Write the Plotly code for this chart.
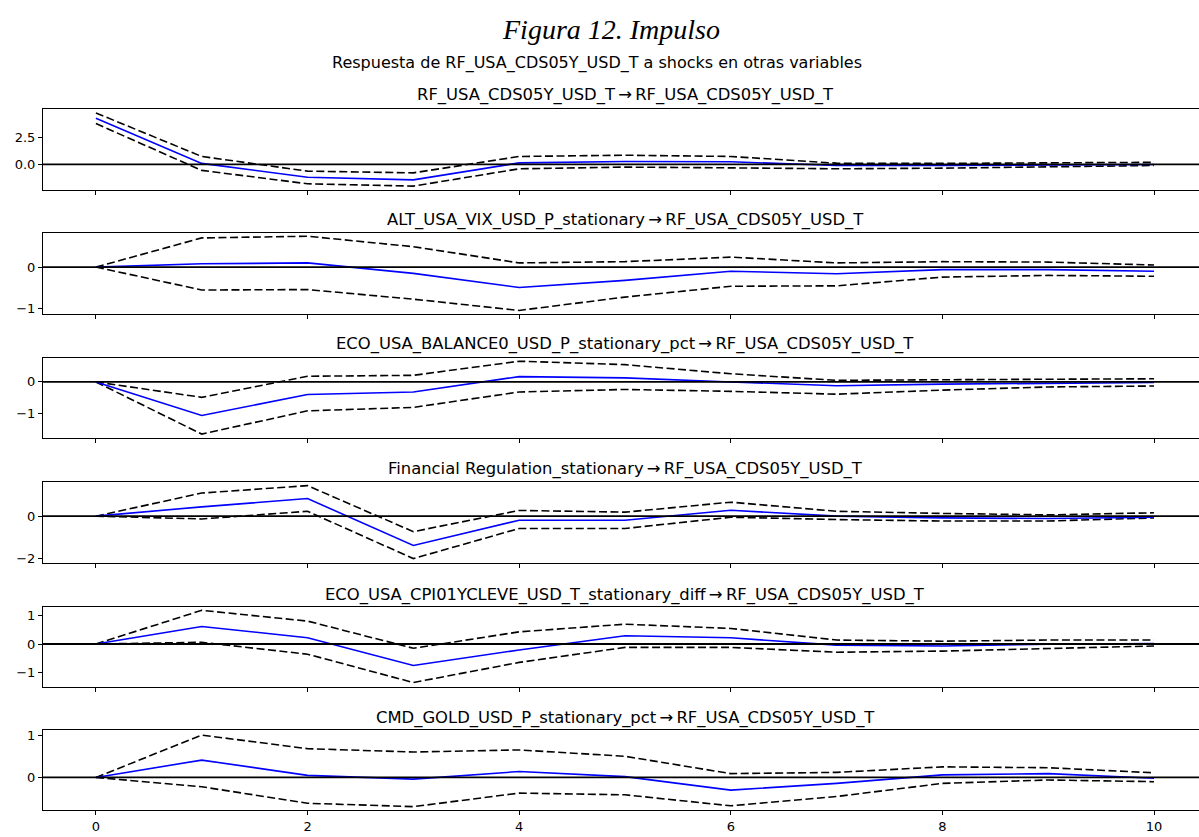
import plotly.graph_objects as go

# ---- data: impulse responses of the CDS spread over 0..10 periods ----
horizons = list(range(11))
response_var = "RF_USA_CDS05Y_USD_T"
shock_vars = [
    "RF_USA_CDS05Y_USD_T",
    "ALT_USA_VIX_USD_P_stationary",
    "ECO_USA_BALANCE0_USD_P_stationary_pct",
    "Financial Regulation_stationary",
    "ECO_USA_CPI01YCLEVE_USD_T_stationary_diff",
    "CMD_GOLD_USD_P_stationary_pct",
]

irf_cds = [4.35, 0.10, -1.20, -1.45, 0.15, 0.28, 0.25, -0.10, -0.10, -0.08, 0.00]
upper_cds = [4.85, 0.75, -0.63, -0.79, 0.75, 0.87, 0.75, 0.12, 0.10, 0.15, 0.20]
lower_cds = [3.85, -0.56, -1.82, -2.04, -0.41, -0.25, -0.32, -0.41, -0.35, -0.25, -0.10]

irf_vix = [0.0, 0.08, 0.10, -0.15, -0.49, -0.32, -0.10, -0.16, -0.06, -0.06, -0.10]
upper_vix = [0.0, 0.70, 0.74, 0.49, 0.10, 0.13, 0.24, 0.10, 0.13, 0.12, 0.05]
lower_vix = [0.0, -0.55, -0.54, -0.77, -1.04, -0.72, -0.46, -0.45, -0.24, -0.20, -0.22]

irf_balance = [0.0, -1.07, -0.40, -0.32, 0.17, 0.13, 0.00, -0.12, -0.07, -0.04, -0.02]
upper_balance = [0.0, -0.49, 0.18, 0.21, 0.66, 0.55, 0.26, 0.05, 0.07, 0.08, 0.10]
lower_balance = [0.0, -1.66, -0.92, -0.81, -0.32, -0.24, -0.30, -0.39, -0.26, -0.16, -0.13]

irf_regulation = [0.0, 0.44, 0.83, -1.38, -0.19, -0.19, 0.28, 0.00, -0.08, -0.11, -0.05]
upper_regulation = [0.0, 1.09, 1.44, -0.73, 0.27, 0.19, 0.66, 0.23, 0.13, 0.06, 0.16]
lower_regulation = [0.0, -0.13, 0.23, -2.00, -0.58, -0.58, -0.05, -0.16, -0.23, -0.23, -0.08]

irf_cpi = [0.0, 0.62, 0.22, -0.76, -0.21, 0.29, 0.22, -0.04, -0.07, -0.01, 0.02]
upper_cpi = [0.0, 1.19, 0.81, -0.15, 0.43, 0.70, 0.55, 0.14, 0.10, 0.14, 0.14]
lower_cpi = [0.0, 0.06, -0.36, -1.36, -0.65, -0.12, -0.12, -0.29, -0.25, -0.15, -0.07]

irf_gold = [0.0, 0.41, 0.05, -0.04, 0.14, 0.02, -0.30, -0.14, 0.06, 0.09, -0.02]
upper_gold = [0.0, 1.00, 0.68, 0.60, 0.65, 0.50, 0.09, 0.12, 0.25, 0.23, 0.11]
lower_gold = [0.0, -0.22, -0.61, -0.69, -0.37, -0.41, -0.67, -0.45, -0.14, -0.06, -0.10]

irfs = [irf_cds, irf_vix, irf_balance, irf_regulation, irf_cpi, irf_gold]
uppers = [upper_cds, upper_vix, upper_balance, upper_regulation, upper_cpi, upper_gold]
lowers = [lower_cds, lower_vix, lower_balance, lower_regulation, lower_cpi, lower_gold]

# y ticks per panel
y_tickvals = [[0.0, 2.5], [-1, 0], [-1, 0], [-2, 0], [-1, 0, 1], [0, 1]]
y_ticktext = [["0.0", "2.5"], ["\u22121", "0"], ["\u22121", "0"], ["\u22122", "0"],
              ["\u22121", "0", "1"], ["0", "1"]]
x_ticks = [0, 2, 4, 6, 8, 10]

# ---- layout geometry (pixels) ----
W, H = 1199, 837
panel_top = [107, 232, 357.3, 482.7, 608, 732.7]
panel_bot = [188.5, 313, 438.3, 564.3, 688.7, 813.3]
title_y = [93, 219, 343, 469, 596, 720]
y_ranges = [[-2.42, 5.2], [-1.12, 0.81], [-1.79, 0.77], [-2.22, 1.6], [-1.51, 1.32], [-0.78, 1.11]]
plot_left = 43
x_range = [-0.5, 10.425]

FONT = "DejaVu Sans"
fig = go.Figure()
layout = dict(
    width=W, height=H,
    margin=dict(l=0, r=0, t=0, b=0),
    paper_bgcolor="white", plot_bgcolor="white",
    showlegend=False,
    font=dict(family=FONT, size=13, color="black"),
)
annotations = []
shapes = []

for i in range(6):
    k = "" if i == 0 else str(i + 1)
    xa, ya = "x" + k, "y" + k
    for series, colour, dash in ((uppers[i], "black", "8px,3.5px"),
                                 (lowers[i], "black", "8px,3.5px"),
                                 (irfs[i], "#0000ff", "solid")):
        fig.add_trace(go.Scatter(x=horizons, y=series, mode="lines", xaxis=xa, yaxis=ya,
                                 line=dict(color=colour, width=1.6, dash=dash),
                                 hoverinfo="skip"))
    dom = [1 - panel_bot[i] / H, 1 - panel_top[i] / H]
    layout["xaxis" + k] = dict(
        domain=[plot_left / W, 1.0], range=x_range, anchor=ya,
        tickvals=x_ticks, ticks="outside", ticklen=4, tickwidth=1, tickcolor="black",
        showticklabels=(i == 5), showgrid=False, zeroline=False,
        showline=True, linecolor="black", linewidth=1, mirror=True,
        tickfont=dict(family=FONT, size=13, color="black"),
    )
    layout["yaxis" + k] = dict(
        domain=dom, range=y_ranges[i], anchor=xa,
        tickvals=y_tickvals[i], ticktext=y_ticktext[i],
        ticks="outside", ticklen=4, tickwidth=1, tickcolor="black",
        showgrid=False, zeroline=False,
        showline=True, linecolor="black", linewidth=1, mirror=False,
        tickfont=dict(family=FONT, size=13, color="black"),
    )
    shapes.append(dict(type="line", xref=xa + " domain", yref=ya, x0=0, x1=1, y0=0, y1=0,
                       line=dict(color="black", width=1.8), layer="above"))
    annotations.append(dict(
        text=f"{shock_vars[i]}\u2009\u2192\u2009{response_var}",
        x=625 / W, y=1 - title_y[i] / H, xref="paper", yref="paper",
        xanchor="center", yanchor="middle", showarrow=False,
        font=dict(family=FONT, size=16.4, color="black"),
    ))

annotations.append(dict(
    text="<i>Figura 12. Impulso</i>", x=611 / W, y=1 - 27 / H, xref="paper", yref="paper",
    xanchor="center", yanchor="middle", showarrow=False,
    font=dict(family="Liberation Serif", size=28, color="black"),
))
annotations.append(dict(
    text=f"Respuesta de {response_var} a shocks en otras variables",
    x=597 / W, y=1 - 60 / H, xref="paper", yref="paper",
    xanchor="center", yanchor="middle", showarrow=False,
    font=dict(family=FONT, size=16, color="black"),
))
layout["annotations"] = annotations
layout["shapes"] = shapes
fig.update_layout(**layout)
fig.write_html("out.html")
